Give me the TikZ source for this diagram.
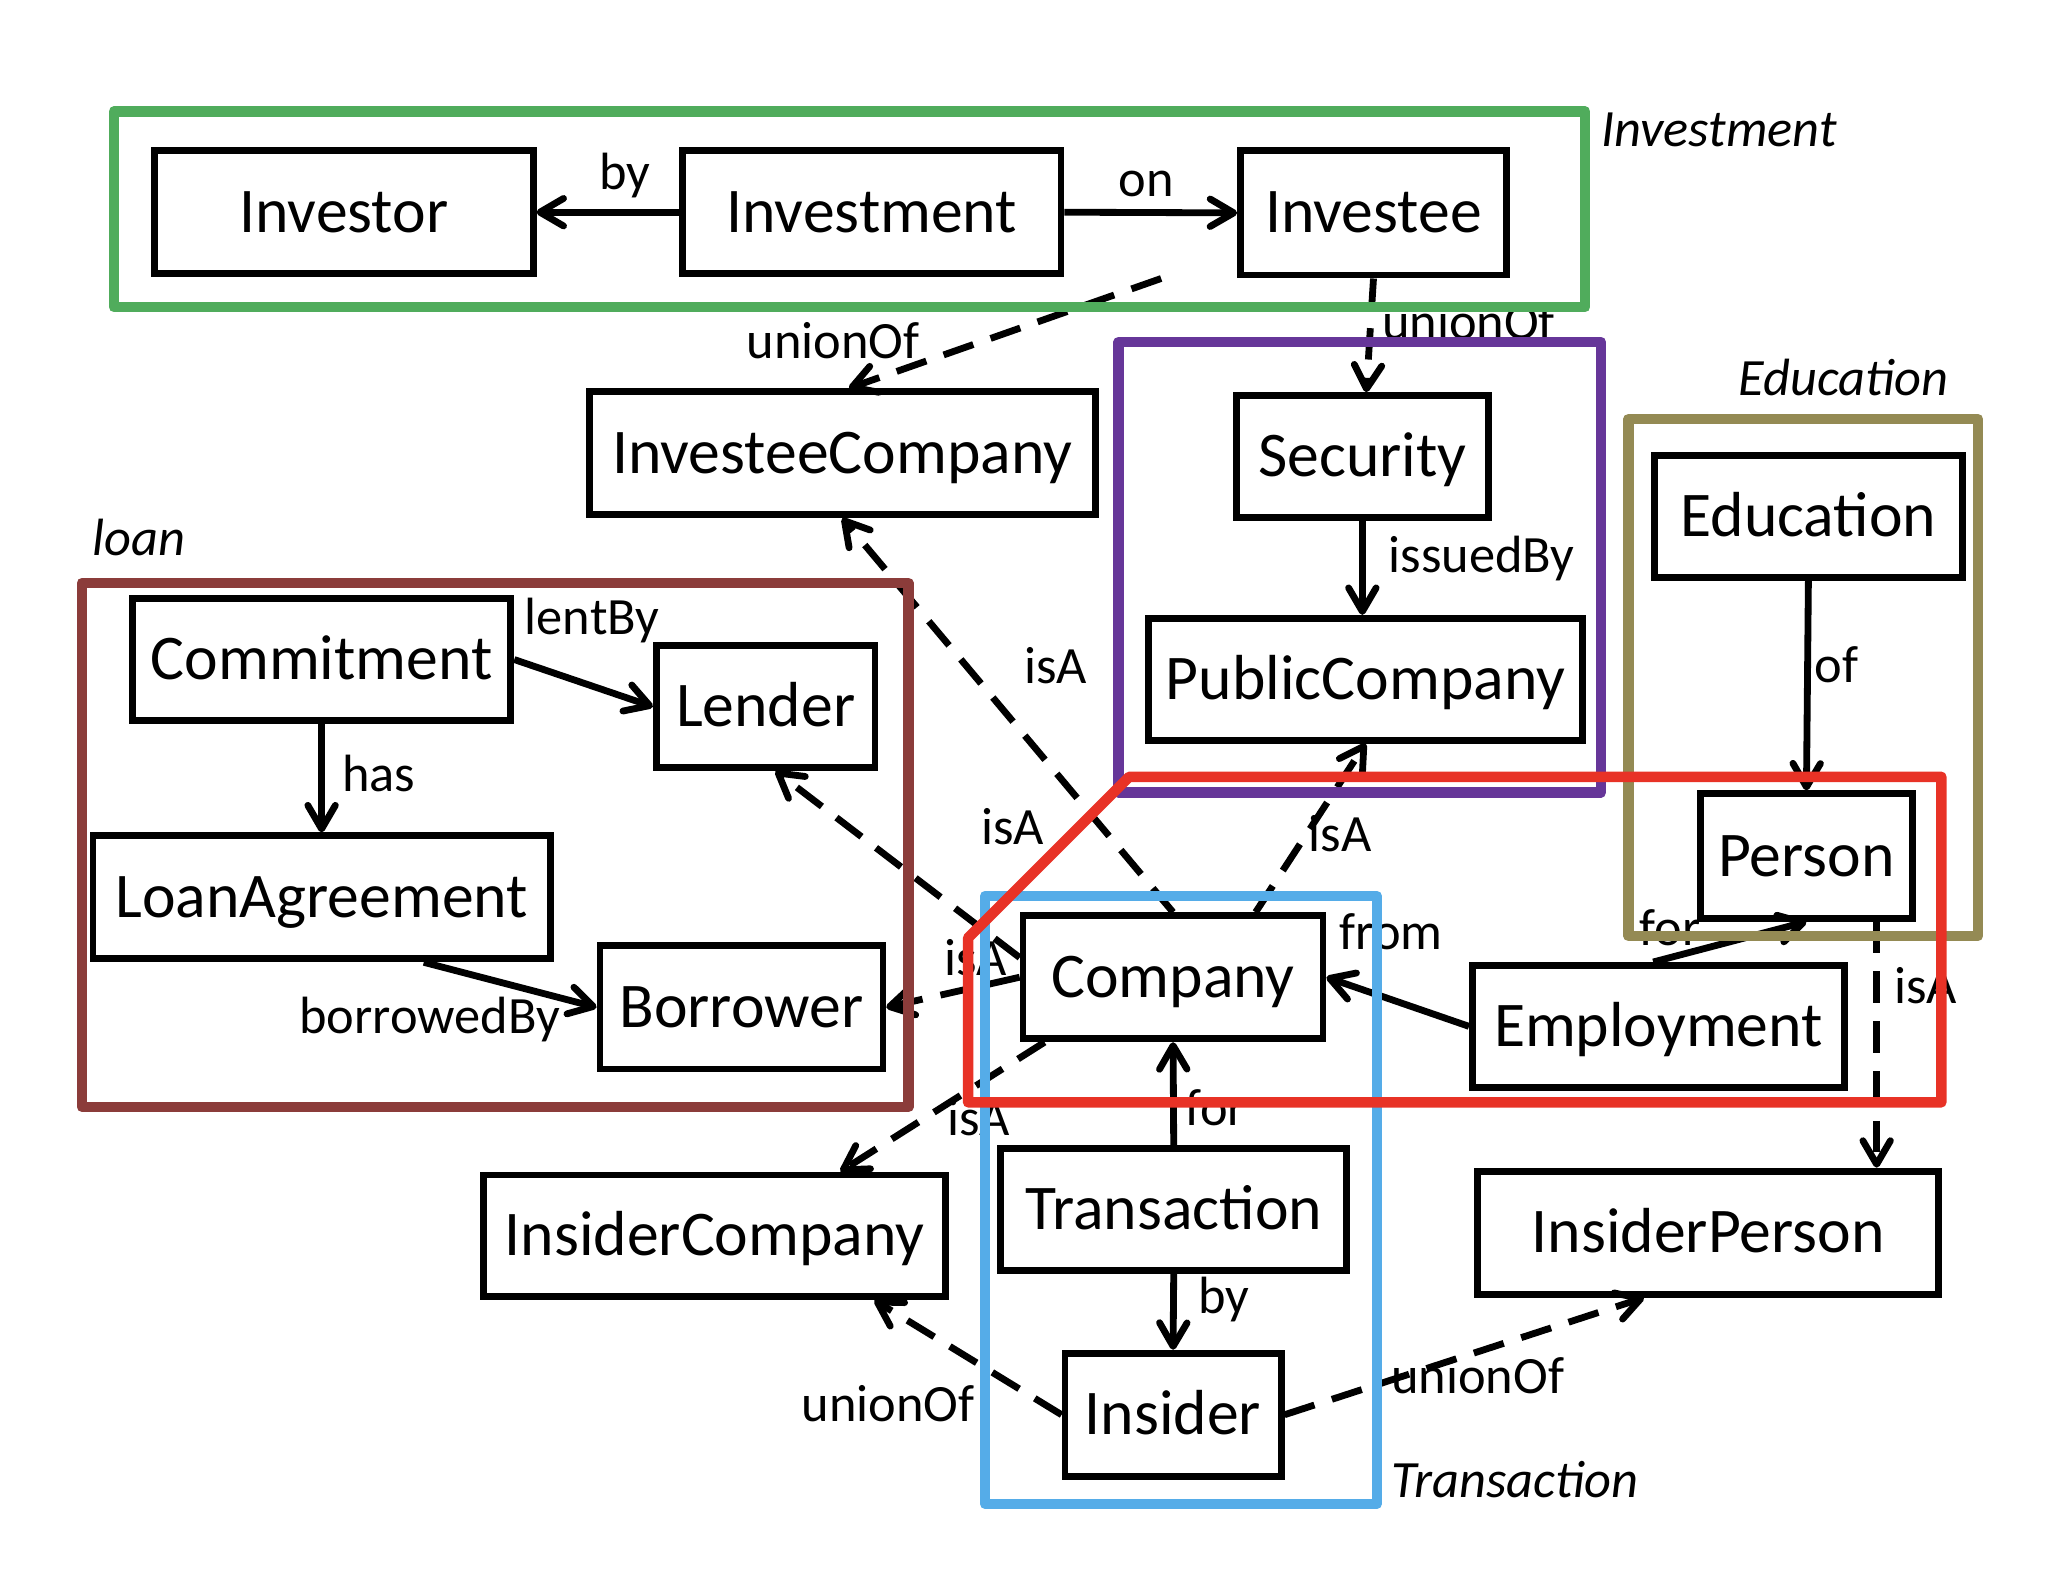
\documentclass[tikz,border=0pt]{standalone}
\usepackage{fontspec}
\setmainfont{Carlito}
\usetikzlibrary{arrows.meta,calc}
\definecolor{cgreen}{RGB}{80,172,92}
\definecolor{cpurple}{RGB}{102,54,153}
\definecolor{colive}{RGB}{148,138,84}
\definecolor{cbrown}{RGB}{139,60,58}
\definecolor{cred}{RGB}{232,50,38}
\definecolor{cblue}{RGB}{85,172,232}
\begin{document}
\begin{tikzpicture}[x=0.5pt,y=-0.5pt,
  box/.style={draw=black,line width=2.6pt,inner sep=0pt,text height=19.4pt,text depth=4.1pt,
    font=\fontsize{24.3pt}{29pt}\selectfont},
  lbl/.style={inner sep=0pt,anchor=base,font=\fontsize{20pt}{24pt}\selectfont},
  grp/.style={inner sep=0pt,anchor=base west,font=\fontsize{20pt}{24pt}\selectfont\itshape},
  arr/.style={line width=2.6pt,-{Straight Barb[length=9pt,width=10.5pt,line cap=round,line join=round]}},
  dsh/.style={dash pattern=on 12pt off 7pt},
  frame/.style={line width=4pt,line join=round}]
\useasboundingbox (0,0) rectangle (1568,1209);

% boxes
\node[box,minimum width=144.5pt,minimum height=47pt] (nInvestor) at (262.5,162) {Investor};
\node[box,minimum width=144.5pt,minimum height=47pt] (nInvestment) at (665.5,162) {Investment};
\node[box,minimum width=101.5pt,minimum height=47.5pt] (nInvestee) at (1048.5,162.5) {Investee};
\node[box,minimum width=193pt,minimum height=47pt] (nInvCo) at (643,346) {InvesteeCompany};
\node[box,minimum width=96pt,minimum height=46.5pt] (nSecurity) at (1040,348.5) {Security};
\node[box,minimum width=165.5pt,minimum height=46.5pt] (nPubCo) at (1042.5,518.5) {PublicCompany};
\node[box,minimum width=117.5pt,minimum height=46.5pt] (nEducation) at (1380.5,394.5) {Education};
\node[box,minimum width=81pt,minimum height=47.5pt] (nPerson) at (1379,653.5) {Person};
\node[box,minimum width=144.5pt,minimum height=46.5pt] (nCommit) at (245.5,503.5) {Commitment};
\node[box,minimum width=83.5pt,minimum height=46.5pt] (nLender) at (584.5,539.5) {Lender};
\node[box,minimum width=174.5pt,minimum height=47pt] (nLoan) at (245.5,685) {LoanAgreement};
\node[box,minimum width=108pt,minimum height=47pt] (nBorrower) at (566,769) {Borrower};
\node[box,minimum width=114.5pt,minimum height=47pt] (nCompany) at (895.5,746) {Company};
\node[box,minimum width=142pt,minimum height=46.5pt] (nEmploy) at (1266,783.5) {Employment};
\node[box,minimum width=176.5pt,minimum height=46.5pt] (nInsCo) at (545.5,943.5) {InsiderCompany};
\node[box,minimum width=132pt,minimum height=46.5pt] (nTrans) at (896,923.5) {Transaction};
\node[box,minimum width=176pt,minimum height=47pt] (nInsPer) at (1304,941) {InsiderPerson};
\node[box,minimum width=82.5pt,minimum height=47pt] (nInsider) at (895.5,1080) {Insider};

% connectors
\draw[arr] (nInvestment.west) -- (nInvestor.east);
\draw[arr] (nInvestment.east) -- (nInvestee.west);
\coordinate (cInvStart) at ([xshift=-29pt]nInvestee.south west);
\draw[arr,dsh] (cInvStart) -- ([xshift=2.5pt]nInvCo.north);
\draw[arr,dsh] (nInvestee.south) -- ([xshift=1.5pt]nSecurity.north);
\draw[arr] (nSecurity.south) -- (nSecurity.south |- nPubCo.north);
\draw[arr] (nEducation.south) -- (nPerson.north);
\draw[arr] (nCommit.east) -- (nLender.west);
\draw[arr] (nCommit.south) -- (nLoan.north);
\draw[arr] ([xshift=39pt]nLoan.south) -- (nBorrower.west);
\draw[arr,dsh] (nCompany.north) -- (nInvCo.south);
\draw[arr,dsh] ([yshift=7.5pt]nCompany.west) -- ([xshift=3.75pt]nLender.south);
\draw[arr,dsh] (nCompany.west) -- (nBorrower.east);
\draw[arr,dsh] ([xshift=9.5pt]nCompany.south west) -- ([xshift=48pt]nInsCo.north);
\draw[arr,dsh] ([xshift=31.5pt]nCompany.north) -- (nPubCo.south);
\draw[arr] (nEmploy.west) -- (nCompany.east);
\draw[arr] ([xshift=-2pt]nEmploy.north) -- (nPerson.south);
\coordinate (cPerStart) at ([xshift=-15pt]nPerson.south east);
\draw[arr,dsh] (cPerStart) -- (cPerStart |- nInsPer.north);
\draw[arr] (nTrans.north) -- (nCompany.south);
\draw[arr] (nTrans.south) -- (nInsider.north);
\draw[arr,dsh] (nInsider.west) -- ([xshift=61pt]nInsCo.south);
\draw[arr,dsh] (nInsider.east) -- ([xshift=-24.5pt]nInsPer.south);

% edge labels
\node[lbl] (lBy1) at (477,145) {by};
\node[lbl] (lOn) at (875,150) {on};
\node[lbl] (lUnion1) at (636,274) {unionOf};
\node[lbl] (lUnion2) at (1121,259) {unionOf};
\node[lbl] (lIssued) at (1131,437) {issuedBy};
\node[lbl] (lOf) at (1402,521) {of};
\node[lbl] (lLent) at (452,484) {lentBy};
\node[lbl] (lHas) at (289,604) {has};
\node[lbl] (lBorrowed) at (328,789) {borrowedBy};
\node[lbl] (lIsA1) at (806,522) {isA};
\node[lbl] (lIsA2) at (773,645) {isA};
\node[lbl] (lIsA3) at (745,745) {isA};
\node[lbl] (lIsA4) at (747,867) {isA};
\node[lbl] (lIsA5) at (1023,650) {isA};
\node[lbl] (lFrom) at (1062,725) {from};
\node[lbl] (lFor1) at (1275,722) {for};
\node[lbl] (lIsA6) at (1470,766) {isA};
\node[lbl] (lFor2) at (928,859) {for};
\node[lbl] (lBy2) at (934,1003) {by};
\node[lbl] (lUnion3) at (678,1085) {unionOf};
\node[lbl] (lUnion4) at (1128,1064) {unionOf};

% group labels
\node[grp] (gInvestment) at (1222,112) {Investment};
\node[grp] (gEducation) at (1327,302) {Education};
\node[grp] (gLoan) at (70,424) {loan};
\node[grp] (gTransaction) at (1062,1143) {Transaction};

% frames
\draw[frame,cgreen] (87,85) rectangle (1210,234.5);
\draw[frame,cpurple] (854,261) rectangle (1222,605);
\draw[frame,colive] (1243,320) rectangle (1510,714.5);
\draw[frame,cbrown] (62.5,445) rectangle (693.5,845);
\draw[frame,cblue] (752,684) rectangle (1051,1148);
\draw[frame,cred] (862,593) -- (1482,593) -- (1482,841.5) -- (739,841.5) -- (739,716) -- cycle;
\end{tikzpicture}
\end{document}
